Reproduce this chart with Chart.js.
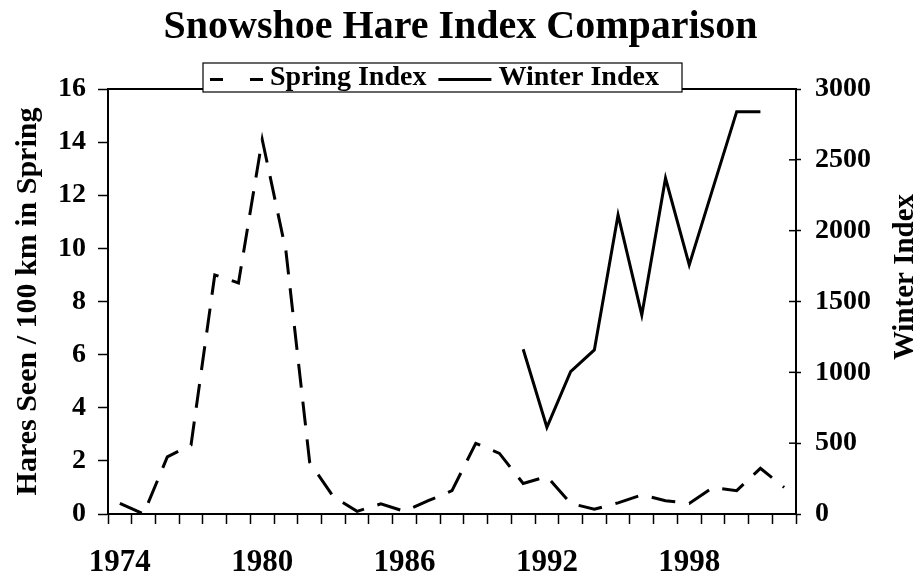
<!DOCTYPE html>
<html>
<head>
<meta charset="utf-8">
<script src="https://cdn.jsdelivr.net/npm/chart.js@4.4.0/dist/chart.umd.min.js"></script>
<style>
  body { margin: 0; background: #fff; }
  #wrap { width: 921px; height: 579px; }
</style>
</head>
<body>
<div id="wrap"><canvas id="myChart"></canvas></div>
<script>
// years on the x axis
const years = ['1974', '1975', '1976', '1977', '1978', '1979', '1980', '1981', '1982', '1983',
    '1984', '1985', '1986', '1987', '1988', '1989', '1990', '1991', '1992', '1993',
    '1994', '1995', '1996', '1997', '1998', '1999', '2000', '2001', '2002'];

// hares seen / 100 km in spring (left axis)
const springIndex = [0.4, 0.0, 2.15, 2.6, 9.0, 8.7, 14.1, 9.9, 1.95, 0.65,
    0.1, 0.38, 0.1, 0.5, 0.88, 2.66, 2.28, 1.15, 1.41, 0.4,
    0.18, 0.42, 0.72, 0.5, 0.4, 1.0, 0.88, 1.72, 1.0];

// winter index (right axis), no data before 1991
const winterIndex = [null, null, null, null, null, null, null, null, null, null,
    null, null, null, null, null, null, null, 1163, 612, 1005,
    1158, 2111, 1405, 2370, 1758, 2300, 2840, 2840, null];

const labelEvery = 6;
const serif = '"Liberation Serif", "Times New Roman", serif';

// white background, frame round the plot, boxed legend and the right axis title
const extras = {
    id: 'extras',
    beforeDraw(chart) {
        const ctx = chart.ctx;
        ctx.save();
        ctx.fillStyle = '#fff';
        ctx.fillRect(0, 0, chart.width, chart.height);
        ctx.restore();
    },
    afterDraw(chart) {
        const { ctx, chartArea: a } = chart;
        ctx.save();
        ctx.strokeStyle = '#000';
        ctx.lineWidth = 2;
        ctx.strokeRect(a.left, a.top, a.right - a.left, a.bottom - a.top);

        // inner ticks of the right axis
        const y1 = chart.scales.y1;
        ctx.lineWidth = 1.5;
        y1.ticks.forEach((t, i) => {
            const py = y1.getPixelForTick(i);
            ctx.beginPath();
            ctx.moveTo(a.right - 7, py);
            ctx.lineTo(a.right, py);
            ctx.stroke();
        });

        // legend box
        const box = { x: 203, y: 63, w: 479, h: 29 };
        ctx.fillStyle = '#fff';
        ctx.fillRect(box.x, box.y, box.w, box.h);
        ctx.lineWidth = 1.2;
        ctx.strokeRect(box.x, box.y, box.w, box.h);

        const ds = chart.data.datasets;
        const midY = box.y + box.h / 2;
        ctx.font = 'bold 28px ' + serif;
        ctx.textBaseline = 'middle';
        ctx.textAlign = 'left';
        ctx.fillStyle = '#000';
        let x = box.x + 7;
        ds.forEach(d => {
            ctx.lineWidth = 3;
            ctx.setLineDash(d.borderDash ? [13, 27] : []);
            ctx.beginPath();
            ctx.moveTo(x, midY + 2);
            ctx.lineTo(x + 53, midY + 2);
            ctx.stroke();
            ctx.setLineDash([]);
            ctx.fillText(d.label, x + 60, midY);
            x += 60 + ctx.measureText(d.label).width + 12;
        });

        // right axis title, reading upwards
        ctx.translate(906, 277);
        ctx.rotate(-Math.PI / 2);
        ctx.textAlign = 'center';
        ctx.font = 'bold 29px ' + serif;
        ctx.fillText('Winter Index', 0, 0);
        ctx.restore();
    }
};

const ctx = document.getElementById('myChart').getContext('2d');
const myChart = new Chart(ctx, {
    type: 'line',
    data: {
        labels: years,
        datasets: [{
            label: 'Spring Index',
            data: springIndex,
            yAxisID: 'y',
            borderColor: '#000',
            borderWidth: 3,
            borderDash: [24, 14],
            pointRadius: 0,
            tension: 0,
            fill: false
        }, {
            label: 'Winter Index',
            data: winterIndex,
            yAxisID: 'y1',
            borderColor: '#000',
            borderWidth: 3,
            pointRadius: 0,
            tension: 0,
            fill: false
        }]
    },
    options: {
        responsive: true,
        maintainAspectRatio: false,
        animation: false,
        layout: { padding: 0 },
        plugins: {
            legend: { display: false },
            tooltip: { enabled: false },
            title: {
                display: true,
                text: 'Snowshoe Hare Index Comparison',
                color: '#000',
                font: { family: serif, size: 40, weight: 'bold', lineHeight: 1 },
                padding: { top: 8, bottom: 41 }
            }
        },
        scales: {
            x: {
                offset: true,
                grid: { offset: true, drawOnChartArea: false, tickLength: 10, tickColor: '#000', tickWidth: 1.5 },
                border: { color: '#000', width: 2 },
                ticks: {
                    autoSkip: false,
                    maxRotation: 0,
                    color: '#000',
                    padding: 20,
                    font: { family: serif, size: 31, weight: 'bold' },
                    callback: (v, i) => (i % labelEvery === 0 ? years[i] : '')
                },
                afterFit: s => { s.height = 65; }
            },
            y: {
                position: 'left',
                min: 0,
                max: 16,
                grid: { drawOnChartArea: false, tickLength: 10, tickColor: '#000', tickWidth: 1.5 },
                border: { color: '#000', width: 2 },
                ticks: {
                    stepSize: 2,
                    color: '#000',
                    padding: 12,
                    font: { family: serif, size: 28, weight: 'bold' }
                },
                title: {
                    display: true,
                    text: 'Hares Seen / 100 km in Spring',
                    color: '#000',
                    font: { family: serif, size: 30, weight: 'bold' },
                    padding: { top: 10 }
                },
                afterFit: s => { s.width = 108; }
            },
            y1: {
                position: 'right',
                min: 0,
                max: 3000,
                grid: { drawOnChartArea: false, tickLength: 5, tickColor: '#000', tickWidth: 1.5 },
                border: { color: '#000', width: 2 },
                ticks: {
                    stepSize: 500,
                    color: '#000',
                    padding: 14,
                    font: { family: serif, size: 28, weight: 'bold' },
                    callback: v => String(v)
                },
                afterFit: s => { s.width = 125; }
            }
        }
    },
    plugins: [extras]
});
</script>
</body>
</html>
